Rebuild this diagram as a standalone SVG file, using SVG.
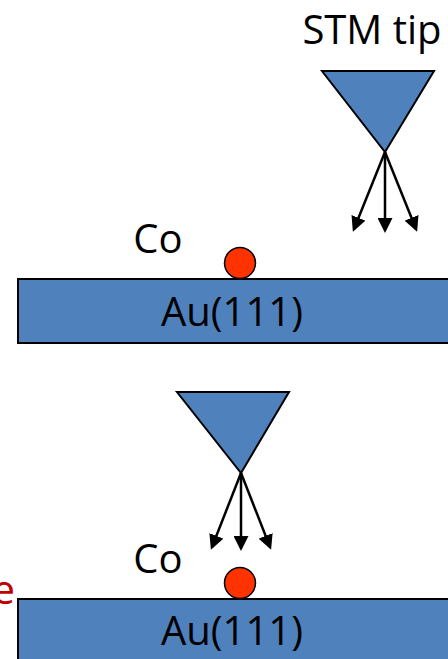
<svg xmlns="http://www.w3.org/2000/svg" width="448" height="659" viewBox="0 0 448 659">
  <style>
    .lbl { font-family: "Open Sans", "Noto Sans", "Liberation Sans", sans-serif; font-size: 40px; fill: #000; }
    .red { fill: #c00000; }
    .slab { fill: #4f81bd; stroke: #000; stroke-width: 2; }
    .tip { fill: #4f81bd; stroke: #000; stroke-width: 2; stroke-linejoin: miter; }
    .atom { fill: #ff3300; stroke: #000; stroke-width: 1.5; }
    .beam { stroke: #000; stroke-width: 2.5; fill: none; marker-end: url(#head); }
  </style>
  <defs>
    <marker id="head" viewBox="0 0 10 10" refX="8" refY="5" markerWidth="6" markerHeight="6" orient="auto" markerUnits="strokeWidth">
      <path d="M0,0 L10,5 L0,10 Z" fill="#000"/>
    </marker>
  </defs>

  <!-- upper panel -->
  <g id="label-stm">
    <text class="lbl" x="372" y="44" text-anchor="middle">STM tip</text>
  </g>
  <g id="tip-top">
    <polygon class="tip" points="322,71 434,71 385,152"/>
  </g>
  <g id="substrate-top">
    <rect class="slab" x="18" y="279" width="440" height="64"/>
    <text class="lbl" x="232" y="326" text-anchor="middle">Au(111)</text>
  </g>
  <g id="atom-top">
    <circle class="atom" cx="240" cy="263" r="15.5"/>
    <text class="lbl" x="158" y="253" text-anchor="middle">Co</text>
  </g>

  <!-- lower panel -->
  <g id="tip-bottom">
    <polygon class="tip" points="177,392 289,392 241,473"/>
  </g>
  <g id="substrate-bottom">
    <rect class="slab" x="18" y="599" width="440" height="70"/>
    <text class="lbl" x="232" y="645" text-anchor="middle">Au(111)</text>
  </g>
  <g id="atom-bottom">
    <circle class="atom" cx="240" cy="583" r="15.5"/>
    <text class="lbl" x="158" y="573" text-anchor="middle">Co</text>
  </g>
  <g id="edge-label">
    <text class="lbl red" x="15" y="604" text-anchor="end">e</text>
  </g>

  <!-- tunnelling arrows -->
  <g id="connectors">
    <line class="beam" x1="385" y1="152" x2="354" y2="229"/>
    <line class="beam" x1="385" y1="152" x2="385" y2="230"/>
    <line class="beam" x1="385" y1="152" x2="416" y2="229"/>
    <line class="beam" x1="241" y1="473" x2="212" y2="547"/>
    <line class="beam" x1="241" y1="473" x2="241" y2="548"/>
    <line class="beam" x1="241" y1="473" x2="270" y2="547"/>
  </g>
</svg>
